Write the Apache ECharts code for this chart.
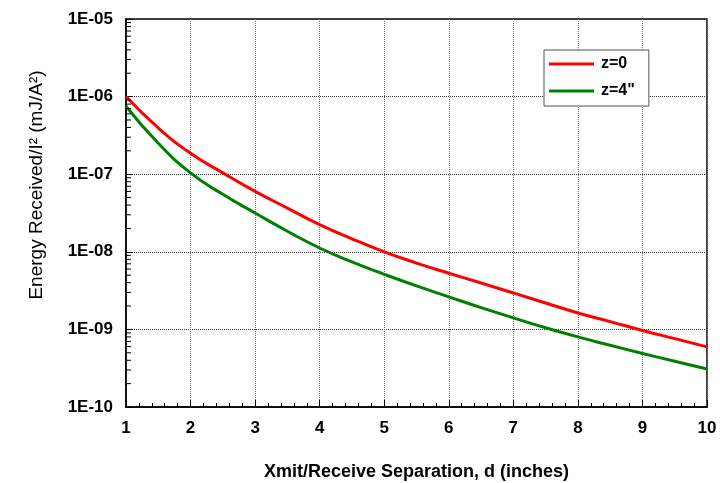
<!DOCTYPE html>
<html>
<head>
<meta charset="utf-8">
<script src="https://cdn.jsdelivr.net/npm/echarts@6/dist/echarts.min.js"></script>
<style>
  html, body { margin: 0; padding: 0; background: #fff; }
  #chart { width: 720px; height: 483px; }
</style>
</head>
<body>
<div id="chart"></div>
<script>
// Separation between transmitter and receiver (inches)
const separation = [1, 1.5, 2, 2.5, 3, 3.5, 4, 4.5, 5, 5.5, 6, 6.5, 7, 7.5, 8, 8.5, 9, 9.5, 10];

// Energy received normalised by I^2 (mJ/A^2), receiver at z = 0
const energyZ0 = [1.0e-6, 3.94e-7, 1.86e-7, 1.04e-7, 6.0e-8, 3.66e-8, 2.24e-8, 1.47e-8, 1.0e-8,
  7.16e-9, 5.3e-9, 3.96e-9, 2.95e-9, 2.19e-9, 1.63e-9, 1.26e-9, 9.7e-10, 7.6e-10, 5.96e-10];

// Energy received normalised by I^2 (mJ/A^2), receiver at z = 4"
const energyZ4 = [7.5e-7, 2.5e-7, 1.04e-7, 5.5e-8, 3.16e-8, 1.84e-8, 1.12e-8, 7.41e-9, 5.13e-9,
  3.63e-9, 2.63e-9, 1.91e-9, 1.41e-9, 1.05e-9, 8.0e-10, 6.24e-10, 4.9e-10, 3.89e-10, 3.09e-10];

const seriesNames = ['z=0', 'z=4"'];
const xTicks = { min: 1, max: 10, step: 1 };
const yDecades = { min: 1e-10, max: 1e-5 };

// Log-spaced minor tick positions (2..9 x 10^n) for the energy axis
const minorTickValues = [];
for (let e = -10; e < -5; e++) {
  for (let k = 2; k <= 9; k++) minorTickValues.push([xTicks.min, k * Math.pow(10, e)]);
}

const font = 'Liberation Sans, Arial, sans-serif';

function sciLabel(v) {
  const exp = Math.round(Math.log10(v));
  const a = Math.abs(exp);
  return '1E' + (exp < 0 ? '-' : '+') + (a < 10 ? '0' + a : a);
}

const chart = echarts.init(document.getElementById('chart'), null, { renderer: 'canvas' });

chart.setOption({
  animation: false,
  backgroundColor: '#fff',
  grid: {
    left: 126, right: 13, top: 19, bottom: 76,
    outerBoundsMode: 'none',
    containLabel: false,
    show: true, borderColor: '#000', borderWidth: 1.5, backgroundColor: '#fff'
  },
  legend: {
    orient: 'vertical',
    left: 544, top: 50,
    width: 105,
    backgroundColor: '#fff',
    borderColor: '#555', borderWidth: 1,
    padding: [6, 14, 7, 5],
    itemWidth: 45, itemHeight: 3, itemGap: 11,
    icon: 'rect',
    textStyle: { fontFamily: font, fontWeight: 'bold', fontSize: 16, color: '#000', padding: [0, 0, 0, 2] },
    data: seriesNames
  },
  xAxis: {
    type: 'value',
    min: xTicks.min, max: xTicks.max, interval: xTicks.step,
    name: 'Xmit/Receive Separation, d (inches)',
    nameLocation: 'middle',
    nameGap: 56,
    nameTextStyle: { fontFamily: font, fontWeight: 'bold', fontSize: 18, color: '#000' },
    axisLine: { show: true, onZero: false, lineStyle: { color: '#000', width: 1.5 } },
    axisTick: { show: true, inside: true, length: 7, lineStyle: { color: '#000' } },
    minorTick: { show: true, splitNumber: 5, length: 4, lineStyle: { color: '#000' } },
    axisLabel: { fontFamily: font, fontWeight: 'bold', fontSize: 17, color: '#000', margin: 13 },
    splitLine: { show: true, lineStyle: { color: '#777', type: 'dotted', width: 1 } }
  },
  yAxis: {
    type: 'log', logBase: 10,
    min: yDecades.min, max: yDecades.max,
    name: 'Energy Received/I\u00B2 (mJ/A\u00B2)',
    nameLocation: 'middle',
    nameGap: 80,
    nameTextStyle: { fontFamily: font, fontSize: 19, color: '#000', padding: [0, 0, 0, 56] },
    axisLine: { show: true, onZero: false, lineStyle: { color: '#000', width: 1.5 } },
    axisTick: { show: true, inside: true, length: 7, lineStyle: { color: '#000' } },
    axisLabel: {
      fontFamily: font, fontWeight: 'bold', fontSize: 17, color: '#000', margin: 13,
      formatter: sciLabel
    },
    splitLine: { show: true, lineStyle: { color: '#333', type: 'dotted', width: 1 } }
  },
  series: [
    {
      name: seriesNames[0],
      type: 'line',
      data: separation.map((x, i) => [x, energyZ0[i]]),
      smooth: 0.5,
      symbol: 'none',
      lineStyle: { color: '#ff0000', width: 3 },
      itemStyle: { color: '#ff0000' },
      z: 3
    },
    {
      name: seriesNames[1],
      type: 'line',
      data: separation.map((x, i) => [x, energyZ4[i]]),
      smooth: 0.5,
      symbol: 'none',
      lineStyle: { color: '#008000', width: 3 },
      itemStyle: { color: '#008000' },
      z: 3
    },
    {
      // log-spaced minor ticks along the energy axis
      type: 'custom',
      silent: true,
      z: 4,
      data: minorTickValues,
      renderItem: function (params, api) {
        const p = api.coord([api.value(0), api.value(1)]);
        return {
          type: 'line',
          shape: { x1: p[0], y1: p[1], x2: p[0] + 5, y2: p[1] },
          style: { stroke: '#000', lineWidth: 1 }
        };
      }
    }
  ]
});
</script>
</body>
</html>
